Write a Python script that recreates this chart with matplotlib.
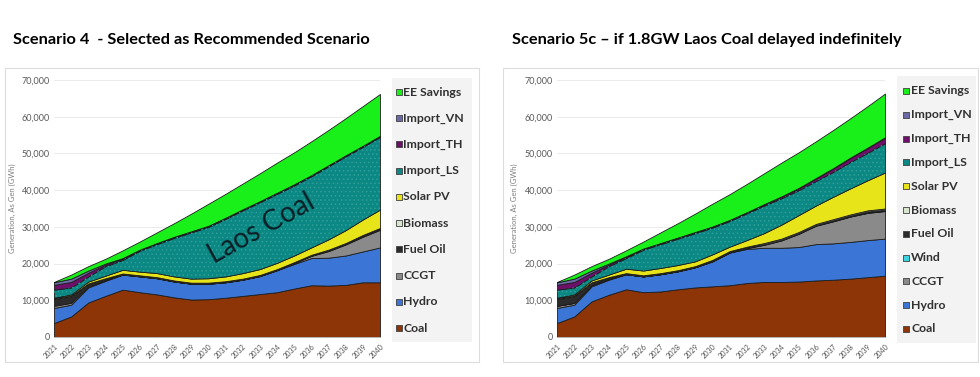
import matplotlib
matplotlib.use("Agg")
import matplotlib.pyplot as plt
from matplotlib.patches import Rectangle
import numpy as np

years = list(range(2021, 2041))

# ---------- Scenario 4 (left), GWh by layer ----------
s4_coal = [3800, 5600, 9400, 11200, 12900, 12200, 11600, 10800, 10200, 10300,
           10700, 11200, 11700, 12200, 13200, 14100, 14000, 14200, 14900, 14900]
s4_hydro = [4100, 3200, 4100, 4100, 4100, 4300, 4400, 4300, 4300, 4200,
            4200, 4400, 4900, 6000, 6700, 7400, 7600, 8000, 8400, 9500]
s4_ccgt = [600, 500, 300, 200, 0, 0, 0, 0, 0, 0,
           0, 0, 0, 0, 200, 600, 1800, 3000, 4000, 4800]
s4_fueloil = [1800, 1800, 600, 300, 100, 100, 100, 100, 100, 100,
              100, 100, 100, 100, 100, 100, 200, 200, 300, 300]
s4_biomass = [200] * 20
s4_solar = [200, 300, 500, 700, 1000, 1000, 1100, 1100, 1100, 1200,
            1300, 1500, 1600, 1700, 1800, 2000, 2800, 3500, 4200, 5000]
s4_import_ls = [2200, 1900, 1400, 2600, 2700, 5700, 7900, 10500, 12600, 14000,
                15700, 17100, 18200, 18800, 19100, 19400, 19900, 20100, 19800, 19800]
s4_import_th = [1300, 1500, 1000, 400, 300, 200, 200, 200, 200, 200,
                200, 200, 200, 200, 200, 200, 200, 200, 200, 200]
s4_import_vn = [700, 900, 600, 300, 200, 100, 100, 100, 100, 100,
                100, 100, 100, 100, 100, 100, 100, 100, 100, 100]
s4_ee = [100, 1100, 1200, 1300, 2100, 2200, 2900, 3700, 4800, 6000,
         6500, 7000, 7600, 8200, 8700, 9200, 9600, 10100, 10800, 11400]

# ---------- Scenario 5c (right) ----------
s5_coal = [3800, 5600, 9700, 11500, 13000, 12200, 12400, 13000, 13500, 13800,
           14100, 14700, 15000, 15000, 15100, 15400, 15600, 15900, 16300, 16700]
s5_hydro = [4100, 3200, 4100, 4100, 4100, 4300, 4700, 4900, 5500, 6800,
            8900, 9300, 9300, 9300, 9400, 9900, 9900, 10000, 10100, 10100]
s5_ccgt = [600, 500, 300, 200, 0, 0, 0, 0, 0, 0,
           0, 200, 800, 2000, 3600, 5000, 6000, 6900, 7400, 7500]
s5_wind = [0, 0, 0, 0, 0, 0, 0, 0, 0, 100,
           100, 100, 100, 100, 100, 100, 100, 100, 100, 100]
s5_fueloil = [1800, 1800, 600, 300, 100, 100, 100, 100, 100, 100,
              100, 100, 100, 100, 100, 100, 200, 200, 300, 300]
s5_biomass = [200, 200, 200, 200, 200, 200, 200, 200, 200, 200,
              200, 200, 300, 300, 300, 300, 300, 300, 300, 300]
s5_solar = [200, 300, 500, 700, 1200, 1300, 1400, 1400, 1300, 1500,
            1200, 1800, 2700, 3800, 4600, 5000, 6100, 7100, 8200, 9800]
s5_import_ls = [2200, 1900, 1100, 2300, 2900, 5700, 6500, 7200, 7700, 7300,
                7000, 7300, 7500, 7200, 6800, 6700, 6800, 7200, 7500, 8000]
s5_import_th = [1300, 1500, 1000, 400, 300, 200, 200, 200, 200, 200,
                200, 200, 300, 400, 500, 700, 900, 1100, 1300, 1500]
s5_import_vn = [700, 900, 600, 300, 200, 100, 100, 100, 100, 100,
                100, 100, 100, 100, 100, 100, 100, 100, 100, 100]
s5_ee = [100, 1100, 1200, 1300, 1600, 1900, 2900, 3900, 5000, 6200,
         7000, 7700, 8400, 9200, 9700, 10000, 10400, 10700, 11300, 11900]

titles = ["Scenario 4  - Selected as Recommended Scenario",
          "Scenario 5c \u2013 if 1.8GW Laos Coal delayed indefinitely"]
y_label = "Generation, As Gen (GWh)"
annotation = "Laos Coal"

colors = {
    "Coal": "#8E3508", "Hydro": "#3B76D6", "CCGT": "#8A8A8A", "Wind": "#3DD3E0",
    "Fuel Oil": "#2B2B2B", "Biomass": "#D9E6CF", "Solar PV": "#E8E41A",
    "Import_LS": "#0B8784", "Import_TH": "#6E0F6A", "Import_VN": "#6A6AA6",
    "EE Savings": "#19F019",
}

s4 = [("Coal", s4_coal), ("Hydro", s4_hydro), ("CCGT", s4_ccgt),
      ("Fuel Oil", s4_fueloil), ("Biomass", s4_biomass), ("Solar PV", s4_solar),
      ("Import_LS", s4_import_ls), ("Import_TH", s4_import_th),
      ("Import_VN", s4_import_vn), ("EE Savings", s4_ee)]
s5 = [("Coal", s5_coal), ("Hydro", s5_hydro), ("CCGT", s5_ccgt), ("Wind", s5_wind),
      ("Fuel Oil", s5_fueloil), ("Biomass", s5_biomass), ("Solar PV", s5_solar),
      ("Import_LS", s5_import_ls), ("Import_TH", s5_import_th),
      ("Import_VN", s5_import_vn), ("EE Savings", s5_ee)]

plt.rcParams['font.family'] = ['Lato', 'DejaVu Sans']
plt.rcParams['hatch.linewidth'] = 0.6

W, H = 980, 377
fig = plt.figure(figsize=(W / 100, H / 100), dpi=100)


def fx(px):
    return px / W


def fy(py):
    return 1 - py / H


def draw_panel(series, ax_px, frame_px, legend_px, title, title_x, ylab_x):
    x0, x1 = ax_px
    ax = fig.add_axes([fx(x0), fy(337), fx(x1 - x0), (337 - 80) / H])
    names = [n for n, _ in series]
    vals = np.array([v for _, v in series], dtype=float)
    ax.stackplot(years, vals, colors=[colors[n] for n in names],
                 edgecolor="#1c1c1c", linewidth=0.6, zorder=2)
    # dotted texture on Import_LS
    idx = names.index("Import_LS")
    cum = np.cumsum(vals, axis=0)
    ax.fill_between(years, cum[idx - 1], cum[idx], facecolor="none",
                    edgecolor="#2f9f98", hatch="....", linewidth=0, zorder=3)
    ax.set_xlim(2021, 2040)
    ax.set_ylim(0, 70000)
    ax.set_yticks(range(0, 70001, 10000))
    ax.set_yticklabels([f"{v:,}" for v in range(0, 70001, 10000)],
                       fontsize=6.5, color="#595959")
    ax.set_xticks(years)
    ax.set_xticklabels([str(y) for y in years], fontsize=5.2, color="#505050",
                       rotation=45, ha="right", rotation_mode="anchor")
    ax.tick_params(axis="both", length=0, pad=3)
    ax.tick_params(axis="x", pad=4)
    ax.grid(axis="y", color="#e8e8e8", linewidth=0.6, zorder=0)
    ax.set_axisbelow(True)
    for s in ["top", "right", "left"]:
        ax.spines[s].set_visible(False)
    ax.spines["bottom"].set_color("#d0d0d0")
    ax.spines["bottom"].set_linewidth(0.6)
    fig.text(fx(ylab_x), fy(208), y_label, rotation=90, fontsize=5.5,
             color="#7f7f7f", ha="center", va="center")
    # frame
    fxa, fya, fxb, fyb = frame_px
    fig.patches.append(Rectangle((fx(fxa), fy(fyb)), fx(fxb - fxa), (fyb - fya) / H,
                                 transform=fig.transFigure, facecolor="none",
                                 edgecolor="#dcdcdc", linewidth=0.8))
    # legend
    lxa, lya, lxb, lyb, sq_x, txt_x, y_first, y_last = legend_px
    fig.patches.append(Rectangle((fx(lxa), fy(lyb)), fx(lxb - lxa), (lyb - lya) / H,
                                 transform=fig.transFigure, facecolor="#f3f3f3",
                                 edgecolor="none"))
    leg_names = names[::-1]
    n = len(leg_names)
    for i, nm in enumerate(leg_names):
        yy = y_first + (y_last - y_first) * i / (n - 1)
        fig.patches.append(Rectangle((fx(sq_x), fy(yy + 3)), fx(6), 6 / H,
                                     transform=fig.transFigure,
                                     facecolor=colors[nm], edgecolor="#404040",
                                     linewidth=0.6))
        fig.text(fx(txt_x), fy(yy), nm, fontsize=8.8, fontweight="bold",
                 color="#303030", ha="left", va="center")
    fig.text(fx(title_x), fy(40), title, fontsize=11.8, fontweight="bold",
             color="black", ha="left", va="center")
    return ax


axL = draw_panel(s4, (54, 380), (5, 68, 479, 362),
                 (392, 78, 472, 342, 396, 403, 92, 328),
                 titles[0], 13, 12)
axR = draw_panel(s5, (557, 885), (503, 68, 978, 362),
                 (897, 76, 976, 343, 903, 911, 91, 329),
                 titles[1], 512, 514)

axL.text(2033.1, 29500, annotation, rotation=29, fontsize=20, color="#0a1f26",
         ha="center", va="center", zorder=5)

fig.savefig("out.png", dpi=100)
